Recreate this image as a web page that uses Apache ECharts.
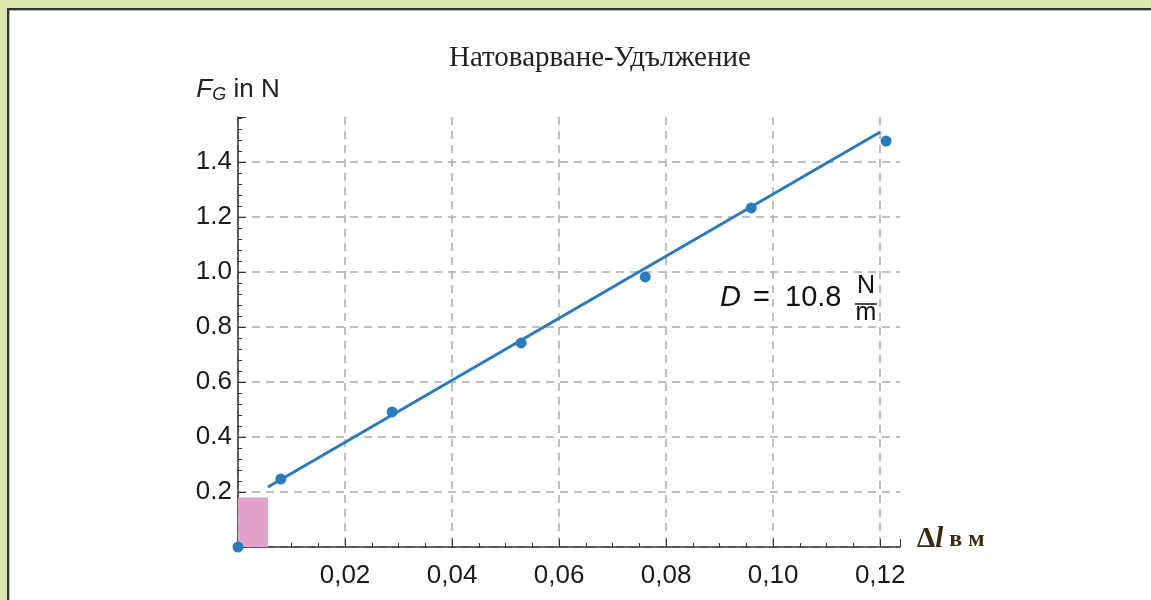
<!DOCTYPE html>
<html>
<head>
<meta charset="utf-8">
<script src="https://cdn.jsdelivr.net/npm/echarts@6/dist/echarts.min.js"></script>
<style>
  html, body { margin: 0; padding: 0; background: #d9e7b1; }
  #frame { position: absolute; left: 7px; top: 8px; width: 1160px; height: 610px;
           background: #fff; border-left: 2px solid #333; border-top: 2px solid #333;
           box-shadow: inset 1px 1px 0 #bbb; }
  #chart { position: absolute; left: 0; top: 0; width: 1151px; height: 600px; }
</style>
</head>
<body>
<div id="frame"></div>
<div id="chart"></div>
<script>
// measured points (elongation in m, weight force in N)
const elongation = [0, 0.008, 0.0288, 0.0529, 0.0761, 0.0959, 0.1211];
const force = [0, 0.247, 0.491, 0.742, 0.982, 1.233, 1.476];
// fitted line ends
const fitX = [0.0056, 0.12];
const fitY = [0.218, 1.509];
// shaded zero region
const shadeX = [0, 0.0056];
const shadeY = [0, 0.18];

const xTicks = [0.02, 0.04, 0.06, 0.08, 0.10, 0.12];
const yTicks = [0.2, 0.4, 0.6, 0.8, 1.0, 1.2, 1.4];

const blue = '#2b7bba';
const sans = 'Liberation Sans';
const myChart = echarts.init(document.getElementById('chart'));

var option = {
  backgroundColor: 'transparent',
  animation: false,
  title: {
    text: 'Натоварване-Удължение',
    left: 444,
    top: 39,
    textStyle: { fontFamily: 'Liberation Serif', fontSize: 29, fontWeight: 'normal', color: '#222' }
  },
  grid: { left: 238, top: 117, width: 662, height: 430 },
  xAxis: {
    type: 'value',
    min: 0,
    max: 0.1237,
    interval: 0.02,
    name: '{d|Δ}{l|l}{t| в м}',
    nameLocation: 'end',
    nameGap: 17,
    nameTextStyle: {
      padding: [0, 0, 14, 0],
      rich: {
        d: { fontFamily: 'Liberation Serif', fontSize: 29, fontWeight: 'bold', color: '#3a2a10' },
        l: { fontFamily: 'Liberation Serif', fontSize: 29, fontWeight: 'bold', fontStyle: 'italic', color: '#3a2a10' },
        t: { fontFamily: 'Liberation Serif', fontSize: 24, fontWeight: 'bold', color: '#3a2a10' }
      }
    },
    axisLine: { onZero: false, lineStyle: { color: '#333', width: 1.5 } },
    axisTick: { inside: true, length: 8, lineStyle: { color: '#333' } },
    minorTick: { show: true, splitNumber: 4, length: 4, lineStyle: { color: '#333' } },
    axisLabel: {
      fontFamily: sans, fontSize: 26, color: '#1a1a1a', margin: 16,
      formatter: v => xTicks.some(t => Math.abs(t - v) < 1e-9) ? v.toFixed(2).replace('.', ',') : ''
    },
    splitLine: { show: true, showMaxLine: false, lineStyle: { color: '#aaa', type: [8, 6], width: 1.5 } }
  },
  yAxis: {
    type: 'value',
    min: 0,
    max: 1.5636,
    interval: 0.2,
    name: '{f|F}{g|G}{n| in N}',
    nameLocation: 'end',
    nameGap: 13,
    nameTextStyle: {
      rich: {
        f: { fontFamily: sans, fontSize: 26, fontStyle: 'italic', color: '#222' },
        g: { fontFamily: sans, fontSize: 18, fontStyle: 'italic', color: '#222', verticalAlign: 'bottom', padding: [10, 0, 0, 0] },
        n: { fontFamily: sans, fontSize: 26, color: '#222' }
      }
    },
    axisLine: { show: true, lineStyle: { color: '#333', width: 1.5 } },
    axisTick: { show: true, inside: true, length: 8, lineStyle: { color: '#333' } },
    minorTick: { show: true, splitNumber: 5, length: 4, lineStyle: { color: '#333' } },
    axisLabel: {
      fontFamily: sans, fontSize: 26, color: '#1a1a1a', margin: 6,
      formatter: v => yTicks.some(t => Math.abs(t - v) < 1e-9) ? v.toFixed(1) : ''
    },
    splitLine: { show: true, showMaxLine: false, lineStyle: { color: '#aaa', type: [8, 6], width: 1.5 } }
  },
  graphic: [
    { type: 'text', style: { x: 720, y: 298, text: 'D', fontFamily: sans, fontSize: 29, fontStyle: 'italic', fill: '#111', verticalAlign: 'middle' } },
    { type: 'text', style: { x: 753, y: 298, text: '=', fontFamily: sans, fontSize: 29, fill: '#111', verticalAlign: 'middle' } },
    { type: 'text', style: { x: 785, y: 298, text: '10.8', fontFamily: sans, fontSize: 29, fill: '#111', verticalAlign: 'middle' } },
    { type: 'text', style: { x: 866, y: 286, text: 'N', fontFamily: sans, fontSize: 25, fill: '#111', align: 'center', verticalAlign: 'middle' } },
    { type: 'line', shape: { x1: 855, y1: 304, x2: 877, y2: 304 }, style: { stroke: '#111', lineWidth: 1.5 } },
    { type: 'text', style: { x: 866, y: 313, text: 'm', fontFamily: sans, fontSize: 25, fill: '#111', align: 'center', verticalAlign: 'middle' } }
  ],
  series: [
    {
      type: 'line',
      data: fitX.map((x, i) => [x, fitY[i]]),
      showSymbol: false,
      lineStyle: { color: blue, width: 3 },
      markArea: {
        silent: true,
        itemStyle: { color: '#e2a2cb', opacity: 1 },
        data: [[{ coord: [shadeX[0], shadeY[0]] }, { coord: [shadeX[1], shadeY[1]] }]]
      },
      z: 3
    },
    {
      type: 'scatter',
      data: elongation.map((x, i) => [x, force[i]]),
      symbolSize: 11,
      itemStyle: { color: blue, opacity: 1 },
      clip: false,
      z: 4
    }
  ]
};

myChart.setOption(option);
</script>
</body>
</html>
